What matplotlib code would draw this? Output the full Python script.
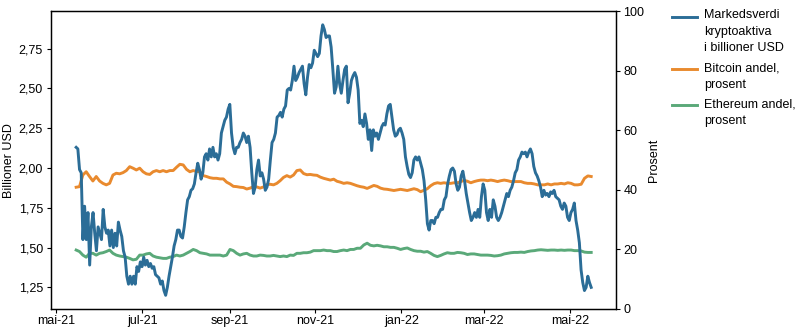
import matplotlib
matplotlib.use("Agg")
import matplotlib.pyplot as plt
import pandas as pd
from matplotlib.legend_handler import HandlerLine2D
from matplotlib.transforms import Affine2D
from matplotlib.ticker import FuncFormatter

plt.rcParams['font.family'] = ['Liberation Sans', 'DejaVu Sans']
plt.rcParams['font.size'] = 9

# data
start_date = '2021-05-15'
end_date = '2022-05-16'

# market value of crypto assets, trillion USD (left axis)
cap_values = [
    2.13, 2.12, 1.99, 1.97, 1.55, 1.76, 1.55, 1.72, 1.39, 1.63,
    1.72, 1.59, 1.48, 1.63, 1.59, 1.55, 1.74, 1.63, 1.59, 1.61,
    1.51, 1.61, 1.50, 1.59, 1.51, 1.66, 1.61, 1.57, 1.48, 1.44,
    1.32, 1.27, 1.32, 1.27, 1.32, 1.27, 1.38, 1.35, 1.41, 1.38,
    1.44, 1.39, 1.42, 1.38, 1.40, 1.37, 1.38, 1.33, 1.32, 1.31,
    1.27, 1.29, 1.23, 1.20, 1.25, 1.32, 1.38, 1.44, 1.51, 1.55,
    1.61, 1.61, 1.57, 1.56, 1.63, 1.72, 1.80, 1.82, 1.86, 1.87,
    1.90, 1.97, 2.03, 1.99, 1.93, 1.97, 2.07, 2.09, 2.05, 2.12,
    2.07, 2.13, 2.07, 2.09, 2.05, 2.09, 2.22, 2.26, 2.30, 2.32,
    2.37, 2.40, 2.22, 2.13, 2.09, 2.13, 2.13, 2.16, 2.18, 2.22,
    2.20, 2.16, 2.20, 2.13, 1.97, 1.84, 1.88, 1.99, 2.05, 1.95,
    1.97, 1.93, 1.86, 1.88, 1.93, 2.05, 2.16, 2.18, 2.22, 2.32,
    2.33, 2.35, 2.32, 2.37, 2.39, 2.49, 2.50, 2.49, 2.55, 2.64,
    2.55, 2.57, 2.60, 2.62, 2.64, 2.53, 2.46, 2.57, 2.65, 2.63,
    2.66, 2.74, 2.72, 2.70, 2.72, 2.83, 2.90, 2.87, 2.82, 2.83,
    2.83, 2.76, 2.62, 2.47, 2.51, 2.64, 2.53, 2.47, 2.55, 2.62,
    2.64, 2.41, 2.47, 2.55, 2.58, 2.60, 2.57, 2.49, 2.28, 2.30,
    2.26, 2.34, 2.28, 2.18, 2.24, 2.11, 2.24, 2.20, 2.22,
    2.18, 2.22, 2.26, 2.28, 2.27, 2.34, 2.39, 2.40, 2.32, 2.24,
    2.20, 2.21, 2.24, 2.25, 2.22, 2.18, 2.07, 2.01, 1.96, 1.94,
    1.97, 2.05, 2.07, 2.05, 2.07, 2.03, 1.99, 1.92, 1.80, 1.65,
    1.61, 1.67, 1.67, 1.65, 1.69, 1.69, 1.72, 1.74, 1.74, 1.80,
    1.82, 1.90, 1.95, 1.99, 2.00, 1.98, 1.90, 1.86, 1.88, 1.95,
    1.98, 1.92, 1.84, 1.78, 1.72, 1.67, 1.69, 1.72, 1.69, 1.74,
    1.69, 1.82, 1.90, 1.86, 1.72, 1.67, 1.74, 1.69, 1.80, 1.76,
    1.69, 1.67, 1.69, 1.72, 1.76, 1.80, 1.84, 1.82, 1.86, 1.88,
    1.92, 1.97, 1.99, 2.05, 2.07, 2.10, 2.09, 2.10, 2.07, 2.10,
    2.12, 2.09, 2.01, 1.97, 1.95, 1.92, 1.88, 1.82, 1.86, 1.83,
    1.84, 1.82, 1.85, 1.84, 1.86, 1.82, 1.81, 1.80, 1.76, 1.74,
    1.78, 1.76, 1.69, 1.67, 1.72, 1.74, 1.78, 1.67, 1.61, 1.53,
    1.36, 1.28, 1.23, 1.25, 1.32, 1.28, 1.25,
]

# bitcoin share, percent (right axis)
btc_share = [
    40.9, 41.1, 45.0, 46.1, 44.5, 43.0, 44.5, 43.0, 42.2, 41.7,
    42.2, 45.0, 45.6, 45.4, 45.8, 46.5, 47.8, 47.3, 46.7, 47.3,
    46.1, 45.4, 45.2, 46.1, 46.5, 46.1, 46.5, 46.1, 46.5, 46.5,
    47.6, 48.6, 48.4, 46.9, 46.1, 46.5, 46.2, 46.1, 44.8, 44.5,
    44.1, 43.9, 43.9, 43.7, 43.7, 42.6, 42.0, 41.2, 41.1, 40.9,
    40.8, 40.3, 40.6, 41.1, 41.0, 40.6, 41.0, 41.8, 41.9, 41.7,
    42.2, 43.1, 44.2, 44.8, 44.3, 45.0, 46.5, 46.7, 45.5, 45.1,
    45.2, 45.0, 44.9, 44.3, 43.9, 43.6, 43.3,
    43.6, 42.9, 42.6, 42.2, 42.4, 42.2, 41.8, 41.4, 41.1, 40.9,
    40.5, 41.0, 41.5, 41.2, 40.6, 40.3, 40.2, 40.0, 39.8, 40.0,
    40.2, 40.0, 39.8, 40.1, 40.4, 40.1, 39.4, 39.9, 40.4, 41.4,
    42.1, 42.4, 42.2, 42.4, 42.2, 42.2, 42.4, 42.4, 42.8, 43.2,
    42.9, 42.4, 42.8, 43.1, 43.3, 43.3, 43.1, 43.3, 43.1, 42.8,
    43.1, 43.3, 43.1, 42.8, 42.8, 42.8, 42.8, 42.4, 42.2, 42.2,
    42.0, 41.7, 41.7, 41.7, 42.0, 41.7, 42.0, 42.0, 42.2, 42.0,
    42.4, 42.2, 41.7, 41.7, 41.9, 43.9, 44.7, 44.5,
]

# ethereum share, percent (right axis)
eth_share = [
    19.8, 19.3, 18.1, 17.4, 18.7, 18.7, 18.1, 18.7, 18.9, 19.3,
    19.8, 18.7, 18.1, 17.8, 17.6, 17.4, 17.0, 16.5, 16.7, 18.1,
    18.1, 18.5, 18.7, 17.8, 17.4, 17.2, 17.0, 17.0, 17.4, 17.6,
    18.1, 17.8, 18.1, 18.7, 19.3, 20.0, 19.6, 18.9, 18.7, 18.5,
    18.1, 18.1, 18.1, 18.1, 17.8, 18.1, 20.0, 19.6, 18.7, 18.1,
    18.5, 18.7, 18.1, 17.8, 17.8, 18.1, 18.0, 17.8, 17.8, 18.0,
    17.8, 17.6, 17.8, 17.6, 18.1, 18.0, 18.7, 18.7, 18.9, 18.9,
    19.1, 19.6, 19.6, 19.6, 19.8, 19.6, 19.6,
    19.3, 19.3, 19.6, 19.8, 19.6, 20.0, 20.0, 20.4, 20.4, 21.5,
    22.1, 21.4, 21.2, 21.4, 21.2, 20.9, 20.9, 20.7, 20.7, 20.4,
    20.0, 20.3, 20.5, 20.0, 19.6, 19.4, 19.4, 19.1, 19.3, 18.7,
    18.0, 17.6, 18.0, 18.5, 18.9, 18.7, 18.7, 19.0, 18.9, 18.7,
    18.3, 18.5, 18.5, 18.3, 18.1, 18.1, 18.1, 18.0, 17.8, 17.9,
    18.1, 18.5, 18.7, 18.9, 19.0, 19.0, 19.1, 19.0, 19.3, 19.5,
    19.6, 19.8, 19.9, 19.8, 19.7, 19.8, 19.8, 19.7, 19.8, 19.7,
    19.8, 19.8, 19.6, 19.6, 19.5, 19.1, 19.0, 19.0,
]

tick_dates = ['2021-05-01', '2021-07-01', '2021-09-01', '2021-11-01',
              '2022-01-01', '2022-03-01', '2022-05-01']
tick_labels = ['mai-21', 'jul-21', 'sep-21', 'nov-21', 'jan-22', 'mar-22', 'mai-22']
left_ticks = [1.25, 1.50, 1.75, 2.00, 2.25, 2.50, 2.75]
right_ticks = [0, 20, 40, 60, 80, 100]
series_labels = ['Markedsverdi\nkryptoaktiva\ni billioner USD',
                 'Bitcoin andel,\nprosent',
                 'Ethereum andel,\nprosent']

BLUE = '#2b6d97'
ORANGE = '#e98a2e'
GREEN = '#5aa979'
LINE_SPACING = 1.5
LINE_STEP = 10.8  # points between legend text lines


# put the legend line next to the first text line instead of the middle
class FirstLineHandler(HandlerLine2D):
    def __init__(self, extra_lines, **kw):
        super().__init__(**kw)
        self.extra_lines = extra_lines

    def create_artists(self, legend, orig_handle, xdescent, ydescent,
                       width, height, fontsize, trans):
        arts = super().create_artists(legend, orig_handle, xdescent, ydescent,
                                      width, height, fontsize, trans)
        shift = Affine2D().translate(0, self.extra_lines * LINE_STEP / 2)
        for a in arts:
            a.set_transform(shift + trans)
        return arts


fig = plt.figure(figsize=(7.97, 3.32), dpi=100)
ax = fig.add_axes([0.0636, 0.0693, 0.7089, 0.8967])
ax2 = ax.twinx()
ax.set_zorder(2)
ax.patch.set_visible(False)
ax2.set_zorder(1)

cap_dates = pd.date_range(start_date, end_date, periods=len(cap_values))
btc_dates = pd.date_range(start_date, end_date, periods=len(btc_share))
eth_dates = pd.date_range(start_date, end_date, periods=len(eth_share))

l1, = ax.plot(cap_dates, cap_values, color=BLUE, lw=2.1)
l2, = ax2.plot(btc_dates, btc_share, color=ORANGE, lw=2.1)
l3, = ax2.plot(eth_dates, eth_share, color=GREEN, lw=2.1)

ax.set_xlim(pd.Timestamp('2021-04-26 21:36'), pd.Timestamp('2022-06-02 09:36'))
ax.set_ylim(1.114, 2.985)
ax2.set_ylim(0, 100)

ax.set_yticks(left_ticks)
ax.yaxis.set_major_formatter(FuncFormatter(lambda v, _: f"{v:.2f}".replace('.', ',')))
ax2.set_yticks(right_ticks)
ax.set_xticks(pd.to_datetime(tick_dates))
ax.set_xticklabels(tick_labels)

ax.tick_params(axis='y', direction='out', length=3, width=0.8, pad=2.5)
ax.tick_params(axis='x', direction='out', length=3, width=0.8, pad=1.5)
ax2.tick_params(axis='y', direction='out', length=3, width=0.8, pad=2.5)

for a in (ax, ax2):
    for s in a.spines.values():
        s.set_linewidth(0.9)
        s.set_color('black')

ax.set_ylabel('Billioner USD', labelpad=2.8)
ax2.set_ylabel('Prosent', labelpad=3)

leg = fig.legend([l1, l2, l3], series_labels,
                 handler_map={l1: FirstLineHandler(2), l2: FirstLineHandler(1),
                              l3: FirstLineHandler(1)},
                 loc='upper left', bbox_to_anchor=(0.843, 0.972),
                 frameon=False, borderpad=0, borderaxespad=0,
                 handlelength=2.0, handletextpad=0.6, labelspacing=0.62)
for t in leg.get_texts():
    t.set_linespacing(LINE_SPACING)

fig.savefig('out.png', dpi=100)
